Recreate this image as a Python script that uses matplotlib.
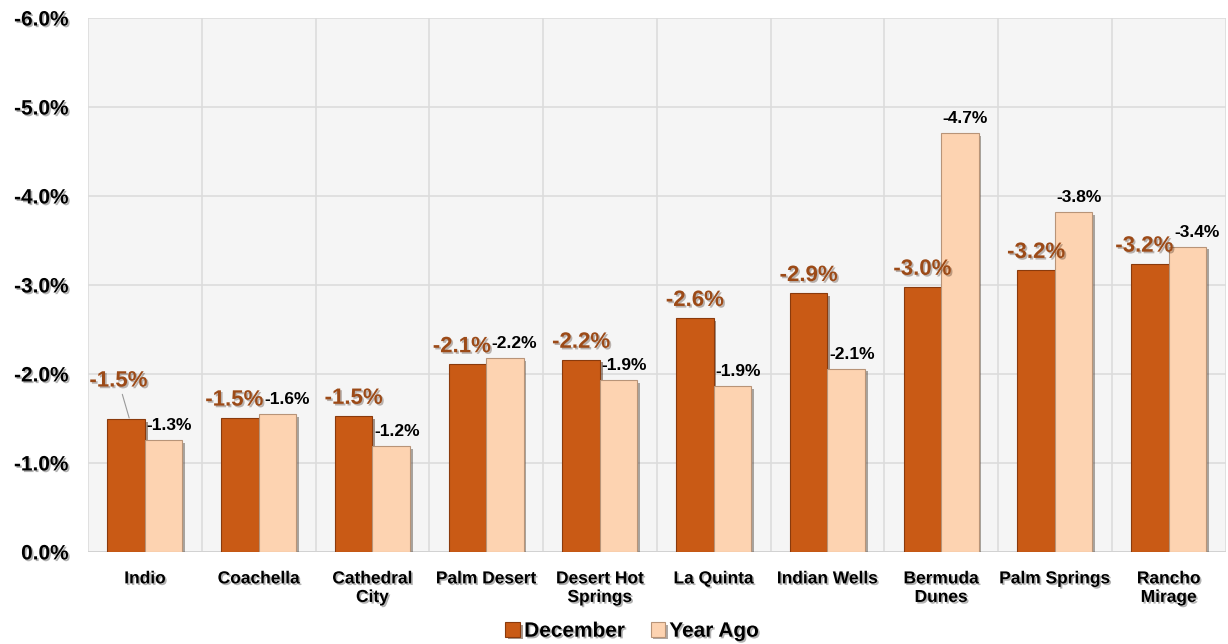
import matplotlib
matplotlib.use("Agg")
import matplotlib.pyplot as plt
import matplotlib.patheffects as pe
import numpy as np

categories = ["Indio", "Coachella", "Cathedral\nCity", "Palm Desert", "Desert Hot\nSprings",
              "La Quinta", "Indian Wells", "Bermuda\nDunes", "Palm Springs", "Rancho\nMirage"]
december = [-1.49, -1.51, -1.53, -2.11, -2.16, -2.63, -2.91, -2.98, -3.17, -3.24]
year_ago = [-1.26, -1.55, -1.19, -2.18, -1.93, -1.86, -2.06, -4.71, -3.82, -3.43]
yticks = [0, -1, -2, -3, -4, -5, -6]

dec_color = "#C95A15"
ya_color = "#FDD3B1"
dec_label_color = "#9C4A17"

plt.rcParams['font.family'] = ['Liberation Sans', 'DejaVu Sans']

fig = plt.figure(figsize=(12.28, 6.44), dpi=100)
ax = fig.add_axes([0.0717, 0.143, 0.9263, 0.829])
ax.set_facecolor("#F5F5F5")

x = np.arange(len(categories))
w = 0.33
shadow = [pe.SimplePatchShadow(offset=(2, -2), alpha=0.45), pe.Normal()]
b1 = ax.bar(x - w / 2, december, width=w, color=dec_color, edgecolor="#8A3A0C",
            linewidth=0.8, zorder=3, label="December", path_effects=shadow)
b2 = ax.bar(x + w / 2, year_ago, width=w, color=ya_color, edgecolor="#B89478",
            linewidth=0.8, zorder=3, label="Year Ago", path_effects=shadow)

ax.set_xlim(-0.5, len(categories) - 0.5)
ax.set_ylim(0, -6)
ax.set_yticks(yticks)
ax.set_yticklabels([f"{v:.1f}%" for v in yticks], fontsize=15, fontweight="bold")
ax.set_xticks(x)
ax.set_xticklabels(categories, fontsize=12.5, fontweight="bold", linespacing=1.3)
ax.tick_params(axis="both", length=0)
ax.tick_params(axis="x", pad=14)
ax.tick_params(axis="y", pad=14)

txt_shadow = [pe.withSimplePatchShadow(offset=(1.2, -1.2), alpha=0.3)]
for lab in ax.get_xticklabels() + ax.get_yticklabels():
    lab.set_path_effects(txt_shadow)

ax.set_xticks(np.arange(len(categories) + 1) - 0.5, minor=True)
ax.grid(True, which="minor", axis="x", color="#DCDCDC", linewidth=1.2, zorder=0)
ax.grid(True, which="major", axis="y", color="#DCDCDC", linewidth=1.2, zorder=0)
ax.tick_params(axis="x", which="minor", length=0)
for s in ax.spines.values():
    s.set_visible(False)
ax.axhline(0, color="#D0D0D0", linewidth=1.2, zorder=2)

for i, (xi, v, y) in enumerate(zip(x, december, year_ago)):
    close = abs(v - y) < 0.2
    if i == 0:
        ax.annotate(f"{v:.1f}%", (xi - w / 2 + 0.03, v), xytext=(-8, 20), textcoords="offset points",
                    ha="center", va="bottom", fontsize=16, fontweight="bold",
                    color=dec_label_color, zorder=5, path_effects=txt_shadow,
                    arrowprops=dict(arrowstyle="-", color="#999999", lw=0.8,
                                    shrinkA=0, shrinkB=1))
    else:
        ax.annotate(f"{v:.1f}%", (xi - w / 2, v), xytext=(-4 if close else 0, 5),
                    textcoords="offset points",
                    ha="center", va="bottom", fontsize=16, fontweight="bold",
                    color=dec_label_color, zorder=5, path_effects=txt_shadow)
    ax.annotate(f"{y:.1f}%", (xi + w / 2, y), xytext=(7 if close else 4, 5),
                textcoords="offset points",
                ha="center", va="bottom", fontsize=12.5, fontweight="bold",
                color="black", zorder=6)

leg = fig.legend(handles=[b1, b2], loc="lower center", bbox_to_anchor=(0.515, -0.024),
                 ncol=2, frameon=False, prop={"weight": "bold", "size": 15},
                 handlelength=0.7, handleheight=0.7, handletextpad=0.2, columnspacing=1.2)
for t in leg.get_texts():
    t.set_path_effects(txt_shadow)

fig.savefig("out.png", dpi=100)
